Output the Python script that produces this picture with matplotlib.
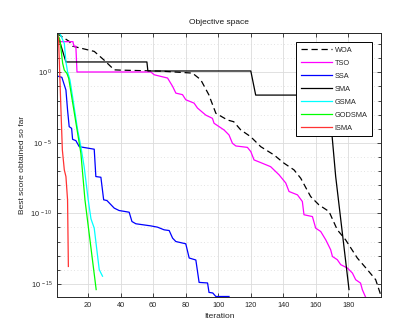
import numpy as np
import matplotlib
matplotlib.use("Agg")
import matplotlib.pyplot as plt
from matplotlib.ticker import FixedLocator, NullFormatter

plt.rcParams["font.family"] = ["Liberation Sans", "DejaVu Sans"]
plt.rcParams["mathtext.fontset"] = "custom"
plt.rcParams["mathtext.rm"] = "Liberation Sans"
plt.rcParams["mathtext.it"] = "Liberation Sans"

# iteration positions and log10(best score)
woa_it = [1, 2.2, 8.3, 10.4, 23.7, 29.6, 36.0, 40.1, 64.6, 84.1, 89.2, 94.2, 95.4, 98.5,
          105.7, 109.5, 113.8, 119.9, 126.1, 134.3, 140.4, 146.6, 150.7, 156.8, 161.9,
          168.1, 173.2, 178.3, 185.5, 191.7, 196.8, 199.5, 200]
woa_log = [2.76, 2.66, 2.20, 1.86, 1.49, 0.89, 0.18, 0.16, 0.09, -0.05, -0.52, -1.59,
           -1.96, -2.90, -3.38, -3.50, -4.08, -4.56, -5.27, -5.86, -6.44, -6.92, -7.51,
           -8.81, -9.40, -9.87, -11.17, -11.88, -13.17, -14.0, -14.71, -15.65, -15.91]

tso_it = [1, 2.6, 10.6, 11.2, 12.4, 13.1, 58.5, 60.6, 68.8, 71.9, 73.9, 78.0, 80.0, 85.1,
          87.2, 92.3, 96.4, 97.4, 100.5, 103.6, 106.6, 108.7, 110.8, 117.9, 120.0, 122.0,
          126.1, 132.2, 137.4, 141.5, 143.5, 148.7, 151.7, 152.7, 157.9, 159.9, 163.0,
          166.1, 169.1, 170.2, 173.2, 175.3, 179.4, 182.5, 184.5, 187.5, 188.6, 190.8]
tso_log = [2.76, 2.18, 2.18, 1.86, 1.86, 0.03, 0.03, -0.17, -0.40, -0.99, -1.47, -1.58,
           -1.94, -2.18, -2.53, -3.03, -3.26, -3.61, -3.85, -4.09, -4.44, -5.03, -5.22,
           -5.32, -5.62, -6.21, -6.40, -6.69, -7.27, -7.85, -8.45, -8.69, -9.16, -10.1,
           -10.23, -11.05, -11.29, -11.88, -12.58, -13.06, -13.29, -13.64, -13.88, -14.24,
           -14.71, -14.95, -15.42, -16.0]

ssa_it = [1, 3.8, 6.3, 7.3, 8.3, 9.8, 10.4, 12.4, 14.5, 23.7, 24.7, 27.8, 29.5, 31.5, 36.0,
          39.0, 45.2, 46.9, 49.3, 58.5, 62.6, 66.7, 69.8, 71.9, 73.9, 80.0, 82.1, 86.2,
          88.2, 93.4, 94.3, 96.6, 98.5, 106.6]
ssa_log = [-0.26, -0.35, -1.25, -2.67, -3.85, -3.97, -4.75, -4.84, -5.27, -5.45, -7.39,
           -7.44, -9.04, -9.09, -9.63, -9.80, -9.92, -10.58, -10.74, -10.89, -10.98,
           -11.17, -11.22, -11.76, -12.0, -12.16, -13.17, -13.31, -14.9, -14.94, -15.61,
           -15.65, -15.9, -15.9]

sma_it = [1, 6.3, 56.1, 56.7, 120.0, 123.0, 167.7, 170.2, 172.2, 180.4]
sma_log = [2.76, 0.74, 0.74, 0.10, 0.10, -1.61, -1.61, -4.79, -7.39, -15.41]

gsma_it = [1, 2.6, 5.3, 6.3, 7.3, 8.8, 10.4, 13.5, 15.5, 17.5, 20.0, 21.7, 23.7, 25.8,
           26.8, 28.8]
gsma_log = [2.76, 2.76, 2.05, 0.75, 0.04, -0.55, -1.73, -4.09, -5.27, -6.69, -9.04,
            -10.39, -11.05, -13.06, -14.0, -14.46]

godsma_it = [1, 2.6, 4.3, 5.3, 6.9, 8.0, 15.5, 18.0, 24.9]
godsma_log = [2.76, 2.29, 0.64, 0.16, -0.07, -0.42, -5.74, -9.04, -15.41]

isma_it = [1, 1.8, 3.2, 4.1, 5.3, 6.3, 7.3, 7.8]
isma_log = [2.76, 2.29, -2.53, -5.5, -6.92, -7.39, -9.04, -13.77]

fig = plt.figure(figsize=(3.98, 3.27), dpi=100)
ax = fig.add_axes([0.144, 0.092, 0.813, 0.806])

series = [
    ("WOA", woa_it, woa_log, dict(color="k", ls=(0, (5, 3)))),
    ("TSO", tso_it, tso_log, dict(color="#ff00ff")),
    ("SSA", ssa_it, ssa_log, dict(color="#0000ff")),
    ("SMA", sma_it, sma_log, dict(color="k")),
    ("GSMA", gsma_it, gsma_log, dict(color="#00ffff")),
    ("GODSMA", godsma_it, godsma_log, dict(color="#00ff00")),
    ("ISMA", isma_it, isma_log, dict(color="#ff3333")),
]
for name, it, lg, style in series:
    ax.semilogy(it, 10.0 ** np.array(lg), lw=0.9, label=name, **style)

ax.set_xlim(1, 200)
ax.set_ylim(10 ** -15.93, 10 ** 2.77)
ax.set_xticks([20, 40, 60, 80, 100, 120, 140, 160, 180])
ax.yaxis.set_major_locator(FixedLocator([1e0, 1e-5, 1e-10, 1e-15]))
ax.set_yticklabels([r"$10^{\ 0}$", r"$10^{\ -5}$", r"$10^{\ -10}$", r"$10^{\ -15}$"])
ax.yaxis.set_minor_locator(FixedLocator([10.0 ** k for k in range(-16, 3)]))
ax.yaxis.set_minor_formatter(NullFormatter())

ax.tick_params(which="both", direction="in", top=True, right=True, labelsize=5.3,
               colors="#262626", width=0.6)
ax.tick_params(which="major", length=3)
ax.tick_params(which="minor", length=2)
ax.grid(True, which="major", color="#dcdcdc", lw=0.6)
ax.grid(True, which="minor", axis="y", color="#dadada", lw=0.6, ls=(0, (1, 3)))
ax.set_axisbelow(True)
for s in ax.spines.values():
    s.set_color("#262626")
    s.set_linewidth(0.7)

ax.set_title("Objective space", fontsize=6, color="#1a1a1a", pad=7)
ax.set_xlabel("Iteration", fontsize=6, color="#262626", labelpad=3)
ax.set_ylabel("Best score obtained so far", fontsize=6, color="#262626", labelpad=3)

leg = ax.legend(loc="upper right", bbox_to_anchor=(0.972, 0.967), fontsize=5.3,
                fancybox=False, edgecolor="k", framealpha=1, handlelength=4.2,
                handletextpad=0.4, labelspacing=0.8, borderpad=0.6,
                borderaxespad=0)
leg.get_frame().set_linewidth(0.7)
for t in leg.get_texts():
    t.set_color("#262626")

fig.savefig("out.png", dpi=100)
